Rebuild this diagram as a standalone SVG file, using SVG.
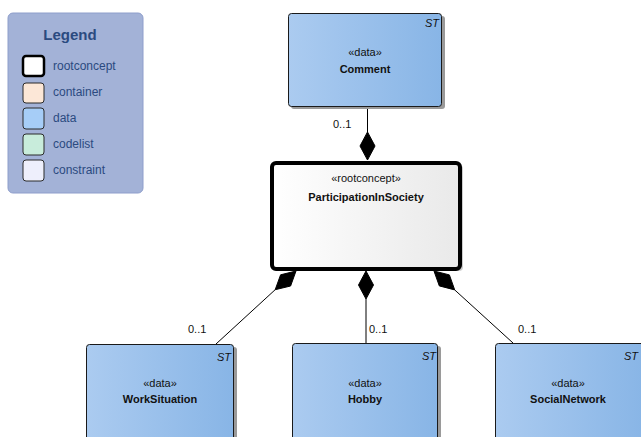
<svg xmlns="http://www.w3.org/2000/svg" width="641" height="437" viewBox="0 0 641 437">
<defs>
<linearGradient id="gData" x1="0" y1="0" x2="1" y2="0">
<stop offset="0" stop-color="#abcbf0"/>
<stop offset="1" stop-color="#88b5e6"/>
</linearGradient>
<linearGradient id="gRoot" x1="0" y1="0" x2="1" y2="0">
<stop offset="0" stop-color="#ffffff"/>
<stop offset="1" stop-color="#e9e9e9"/>
</linearGradient>
<style>
.t{font-family:"Liberation Sans",Arial,sans-serif;font-size:11px;fill:#111}
.b{font-weight:bold}
.st{font-family:"Liberation Sans",Arial,sans-serif;font-size:11px;font-style:italic;fill:#111}
.lg{font-family:"Liberation Sans",Arial,sans-serif;font-size:12px;fill:#2b4a80}
.data{fill:url(#gData);stroke:#1a1a1a;stroke-width:1}
.shadow{fill:#9a9a9a}
.sw{stroke:#2a2a2a;stroke-width:1}
.conn{stroke:#000;stroke-width:1;fill:none}
.dia{fill:#000;stroke:#000;stroke-width:1}
</style>
</defs>
<rect width="641" height="437" fill="#ffffff"/>

<g id="legend">
<rect x="8" y="13" width="135" height="180" rx="5" fill="#a3b2d7" stroke="#8e9ecb" stroke-width="1"/>
<text x="70" y="40" text-anchor="middle" style="font-family:'Liberation Sans',Arial,sans-serif;font-size:15px;font-weight:bold;fill:#2b4a80">Legend</text>
<rect x="23" y="56" width="21" height="20" rx="3" fill="#ffffff" stroke="#000" stroke-width="2.5"/>
<text class="lg" x="53" y="70">rootconcept</text>
<rect class="sw" x="23" y="83" width="21" height="20" rx="3" fill="#fce7d7"/>
<text class="lg" x="53" y="96">container</text>
<rect class="sw" x="23" y="108" width="21" height="21" rx="3" fill="#a6cdf7"/>
<text class="lg" x="53" y="122">data</text>
<rect class="sw" x="23" y="134" width="21" height="21" rx="3" fill="#c8ecdb"/>
<text class="lg" x="53" y="148">codelist</text>
<rect class="sw" x="23" y="160" width="21" height="21" rx="3" fill="#eeeffc"/>
<text class="lg" x="53" y="174">constraint</text>
</g>

<g id="connectors">
<line class="conn" x1="367.5" y1="107" x2="367.5" y2="132"/>
<path class="dia" d="M367.5,160 L375,146 L367.5,132 L360,146 Z"/>
<text class="t" x="333" y="128">0..1</text>

<line class="conn" x1="275.2" y1="289.7" x2="216" y2="344"/>
<path class="dia" d="M296,271 L290.6,286 L275.2,289.7 L280.6,274.8 Z"/>
<text class="t" x="188" y="333">0..1</text>

<line class="conn" x1="366" y1="299" x2="366" y2="343"/>
<path class="dia" d="M366,271 L373.5,285 L366,299 L358.5,285 Z"/>
<text class="t" x="369" y="333">0..1</text>

<line class="conn" x1="454.7" y1="289.9" x2="513" y2="343"/>
<path class="dia" d="M434,271 L449.4,274.9 L454.7,289.9 L439.3,285.9 Z"/>
<text class="t" x="518" y="333">0..1</text>
</g>

<g id="Comment">
<rect class="shadow" x="291" y="16" width="154" height="93" rx="3"/>
<rect class="data" x="288.5" y="13.5" width="153" height="93" rx="3"/>
<text class="st" x="439" y="27" text-anchor="end">ST</text>
<text class="t" x="365" y="56" text-anchor="middle">«data»</text>
<text class="t b" x="365" y="73" text-anchor="middle">Comment</text>
</g>

<g id="ParticipationInSociety">
<rect x="274" y="165" width="189" height="106" rx="4" fill="#b8b8b8" opacity="0.7"/>
<rect x="272" y="163" width="188" height="106" rx="4" fill="url(#gRoot)" stroke="#000" stroke-width="4"/>
<text class="t" x="366" y="182" text-anchor="middle">«rootconcept»</text>
<text class="t b" x="366" y="201" text-anchor="middle">ParticipationInSociety</text>
</g>

<g id="WorkSituation">
<rect class="shadow" x="89" y="347" width="148" height="100" rx="3"/>
<rect class="data" x="86.5" y="344.5" width="147" height="100" rx="3"/>
<text class="st" x="231" y="361" text-anchor="end">ST</text>
<text class="t" x="160" y="387" text-anchor="middle">«data»</text>
<text class="t b" x="160" y="403" text-anchor="middle">WorkSituation</text>
</g>

<g id="Hobby">
<rect class="shadow" x="295" y="346" width="146" height="100" rx="3"/>
<rect class="data" x="292.5" y="343.5" width="145" height="100" rx="3"/>
<text class="st" x="436" y="360" text-anchor="end">ST</text>
<text class="t" x="365" y="387" text-anchor="middle">«data»</text>
<text class="t b" x="365" y="403" text-anchor="middle">Hobby</text>
</g>

<g id="SocialNetwork">
<rect class="data" x="495.5" y="343.5" width="150" height="100" rx="3"/>
<text class="st" x="638" y="360" text-anchor="end">ST</text>
<text class="t" x="568" y="387" text-anchor="middle">«data»</text>
<text class="t b" x="568" y="403" text-anchor="middle">SocialNetwork</text>
</g>
</svg>
